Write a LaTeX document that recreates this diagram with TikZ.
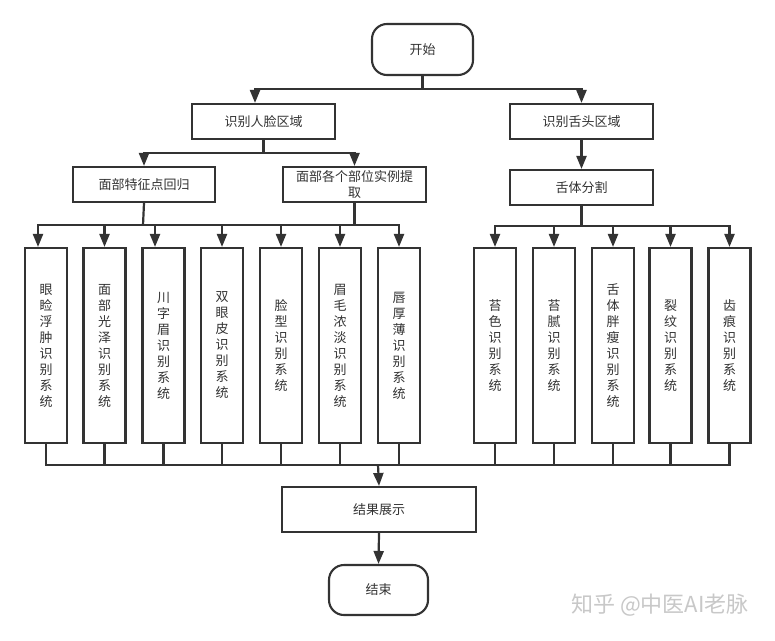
\documentclass[tikz,border=0pt]{standalone}
\usepackage{fontspec}
\newfontfamily\cjk{Noto Sans CJK SC}
\usetikzlibrary{arrows.meta,calc}
\definecolor{ink}{HTML}{333333}
\definecolor{wm}{HTML}{C8C8C8}
\tikzset{
  base/.style={draw=ink,line width=2.1pt,fill=white,inner sep=0pt,text=ink,
    font=\cjk\fontsize{13}{16}\selectfont,align=center},
  box/.style={base,rectangle},
  term/.style={base,rectangle,rounded corners=15pt},
  tall/.style={base,rectangle,minimum width=42pt,minimum height=195pt},
  wire/.style={draw=ink,line width=2.2pt},
  arr/.style={wire,-{Triangle[length=13pt,width=10pt]}},
}
\begin{document}
\begin{tikzpicture}[x=1pt,y=-1pt]
\fill[white] (0,0) rectangle (775,640);
\useasboundingbox (0,0) rectangle (775,640);

% top
\node[term,minimum width=101pt,minimum height=51pt] (start) at (422.5,49.5) {开始};
\node[box,minimum width=143pt,minimum height=35pt] (face) at (263.5,121.5) {识别人脸区域};
\node[box,minimum width=143pt,minimum height=35pt] (tongue) at (581.5,121.5) {识别舌头区域};
\node[box,minimum width=142pt,minimum height=35pt] (feat) at (144,184.5) {面部特征点回归};
\node[box,minimum width=143pt,minimum height=35pt] (inst) at (354.5,184.5) {面部各个部位实例提\\取};
\node[box,minimum width=143pt,minimum height=35pt] (seg) at (581.5,187.5) {舌体分割};

% tall boxes
\node[tall] (b1) at (46,345.5) {眼\\睑\\浮\\肿\\识\\别\\系\\统};
\node[tall] (b2) at (104.5,345.5) {面\\部\\光\\泽\\识\\别\\系\\统};
\node[tall] (b3) at (163.5,345.5) {川\\字\\眉\\识\\别\\系\\统};
\node[tall] (b4) at (222,345.5) {双\\眼\\皮\\识\\别\\系\\统};
\node[tall] (b5) at (281,345.5) {脸\\型\\识\\别\\系\\统};
\node[tall] (b6) at (340,345.5) {眉\\毛\\浓\\淡\\识\\别\\系\\统};
\node[tall] (b7) at (399,345.5) {唇\\厚\\薄\\识\\别\\系\\统};
\node[tall] (b8) at (495,345.5) {苔\\色\\识\\别\\系\\统};
\node[tall] (b9) at (554,345.5) {苔\\腻\\识\\别\\系\\统};
\node[tall] (b10) at (613,345.5) {舌\\体\\胖\\瘦\\识\\别\\系\\统};
\node[tall] (b11) at (670.5,345.5) {裂\\纹\\识\\别\\系\\统};
\node[tall] (b12) at (729.5,345.5) {齿\\痕\\识\\别\\系\\统};

% bottom
\node[box,minimum width=194pt,minimum height=45pt] (res) at (379,509.5) {结果展示};
\node[term,minimum width=99pt,minimum height=50pt] (end) at (378.5,590) {结束};

% junctions
\coordinate (j0) at (422.5,89);
\coordinate (j1) at (263.5,153);
\coordinate (j2) at (143,225);
\coordinate (j3) at (581.5,226);
\coordinate (j4) at (378,465);

% connectors top
\draw[wire] (start.south) -- (j0);
\draw[arr] (j0) -| ($(face.north)+(-8.5,0)$);
\draw[arr] (j0) -| (tongue.north);
\draw[wire] (face.south) -- (j1);
\draw[arr] (j1) -| (feat.north);
\draw[arr] (j1) -| (inst.north);
\draw[wire] (feat.south) -- (j2);
\draw[wire] (inst.south) -- (inst.south |- j2);
\draw[arr] (j2) -| ($(b1.north)+(-8,0)$);
\draw[arr] (j2) -| (b2.north);
\draw[arr] (j2) -| ($(b3.north)+(-8.5,0)$);
\draw[arr] (j2) -| (b4.north);
\draw[arr] (j2) -| (b5.north);
\draw[arr] (j2) -| (b6.north);
\draw[arr] (j2) -| (b7.north);
\draw[arr] (tongue.south) -- (seg.north);
\draw[wire] (seg.south) -- (j3);
\draw[arr] (j3) -| (b8.north);
\draw[arr] (j3) -| (b9.north);
\draw[arr] (j3) -| (b10.north);
\draw[arr] (j3) -| (b11.north);
\draw[arr] (j3) -| (b12.north);

% connectors bottom
\foreach \b in {b1,b2,b3,b4,b5,b6,b7,b8,b9,b10,b11,b12}
  \draw[wire] (\b.south) -- (\b.south |- j4);
\draw[wire,line cap=rect] (b1.south |- j4) -- (b12.south |- j4);
\draw[arr] (j4) -- (res.north);
\draw[arr] (res.south) -- (end.north);

% watermark
\node[text=wm,font=\cjk\fontsize{22}{24}\selectfont,inner sep=0pt] (wmk) at (660,605) {知乎 @中医AI老脉};
\end{tikzpicture}
\end{document}
